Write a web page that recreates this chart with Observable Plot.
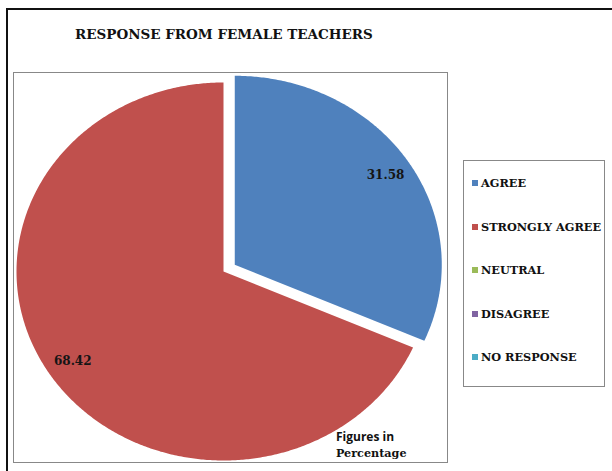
<!DOCTYPE html>
<html>
<head>
<meta charset="utf-8">
<script src="https://cdn.jsdelivr.net/npm/d3@7"></script>
<script src="https://cdn.jsdelivr.net/npm/@observablehq/plot@0.6"></script>
<style>
  html, body { margin: 0; padding: 0; background: #fff; }
  #page { position: relative; width: 612px; height: 471px; overflow: hidden; background: #fff; }
  #outer { position: absolute; left: 6px; top: 8px; width: 620px; height: 480px; border: 2px solid #111; box-sizing: border-box; }
  #title { position: absolute; left: 75px; top: 26px; font: bold 13.5px "DejaVu Serif", serif; color: #111; white-space: nowrap; }
  #plotbox { position: absolute; left: 13px; top: 72px; width: 435px; height: 391px; border: 1px solid #888; box-sizing: border-box; }
  #chart { position: absolute; left: 0; top: 0; }
  #legend { position: absolute; left: 463px; top: 160px; width: 142px; height: 227px; border: 1px solid #888; box-sizing: border-box; }
  .item { position: absolute; left: 8px; font: bold 11.3px "DejaVu Serif", serif; color: #111; white-space: nowrap; }
  .sw { display: inline-block; width: 6px; height: 6px; margin-right: 3px; vertical-align: 1px; }
  #cap1 { position: absolute; left: 336px; top: 428px; font: bold 12px "Open Sans", sans-serif; color: #111; }
  #cap2 { position: absolute; left: 336px; top: 446px; font: bold 11.2px "DejaVu Serif", serif; color: #111; }
</style>
</head>
<body>
<div id="page">
  <div id="outer"></div>
  <div id="title"></div>
  <div id="plotbox"></div>
  <div id="chart"></div>
  <div id="legend"></div>
  <div id="cap1">Figures in</div>
  <div id="cap2">Percentage</div>
</div>
<script>
const titleText = "RESPONSE FROM FEMALE TEACHERS";
const categories = ["AGREE", "STRONGLY AGREE", "NEUTRAL", "DISAGREE", "NO RESPONSE"];
const values = [31.58, 68.42, 0, 0, 0];
const labels = ["31.58", "68.42", "", "", ""];
const colors = ["#4F81BD", "#C0504D", "#9BBB59", "#8064A2", "#4BACC6"];
const exploded = [0.065, 0, 0, 0, 0];

document.getElementById("title").textContent = titleText;

// slice geometry from data (clockwise from 12 o'clock, unit circle, y up)
const total = d3.sum(values);
let acc = 0;
const slices = categories.map((c, i) => {
  const a0 = acc / total * 2 * Math.PI;
  acc += values[i];
  const a1 = acc / total * 2 * Math.PI;
  const mid = (a0 + a1) / 2;
  const cx = exploded[i] * Math.sin(mid);
  const cy = exploded[i] * Math.cos(mid);
  return {category: c, value: values[i], label: labels[i], color: colors[i], a0, a1, mid, cx, cy};
}).filter(s => s.value > 0);

const marks = [];
for (const s of slices) {
  const n = Math.max(2, Math.ceil((s.a1 - s.a0) / (Math.PI / 360)));
  const pts = [{x: s.cx, y: s.cy}];
  for (let k = 0; k <= n; k++) {
    const a = s.a0 + (s.a1 - s.a0) * k / n;
    pts.push({x: s.cx + Math.sin(a), y: s.cy + Math.cos(a)});
  }
  pts.push({x: s.cx, y: s.cy});
  marks.push(Plot.line(pts, {x: "x", y: "y", fill: s.color, stroke: "none", curve: "linear"}));
}
const labelR = 0.87;
marks.push(Plot.text(slices, {
  x: s => s.cx + labelR * Math.sin(s.mid),
  y: s => s.cy + labelR * Math.cos(s.mid),
  text: "label",
  fill: "#151515",
  fontSize: 12,
  fontWeight: "bold",
  fontFamily: "DejaVu Serif",
  textAnchor: "middle"
}));

const chart = Plot.plot({
  width: 612,
  height: 471,
  margin: 0,
  style: {background: "none", overflow: "visible"},
  x: {domain: [-1, 1], range: [16, 430], axis: null},
  y: {domain: [-1, 1], range: [460, 82], axis: null},
  marks
});
document.getElementById("chart").appendChild(chart);

const legend = document.getElementById("legend");
categories.forEach((c, i) => {
  const d = document.createElement("div");
  d.className = "item";
  d.style.top = (15 + i * 43.5) + "px";
  const sw = document.createElement("span");
  sw.className = "sw";
  sw.style.background = colors[i];
  d.appendChild(sw);
  d.appendChild(document.createTextNode(c));
  legend.appendChild(d);
});
</script>
</body>
</html>
